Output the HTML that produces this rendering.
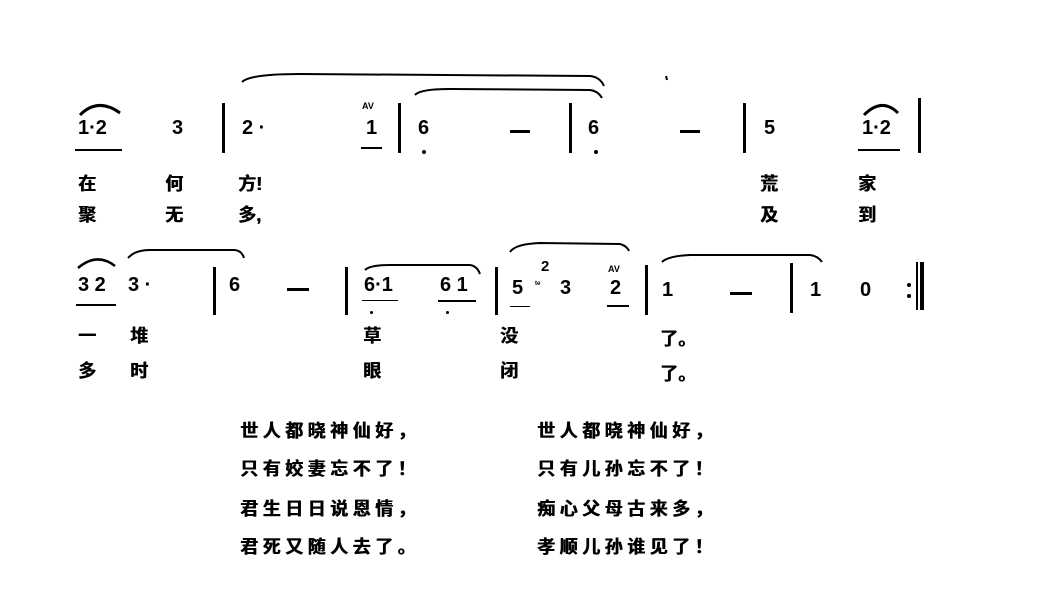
<!DOCTYPE html>
<html><head><meta charset="utf-8"><style>
body{margin:0;width:1038px;height:598px;background:#fff;position:relative;overflow:hidden;font-family:"Liberation Sans","Noto Sans CJK SC",sans-serif;color:#000}
.t{position:absolute;font-weight:bold;line-height:1;white-space:nowrap}
.n{font-size:20px;font-family:"Liberation Sans",sans-serif}
.c{font-size:18px;text-shadow:0.6px 0 0 #000}
.p{font-size:18px;letter-spacing:4.5px;text-shadow:0.6px 0 0 #000}
.b{position:absolute;background:#000;width:3px}
.u{position:absolute;background:#000;height:2px}
.d{position:absolute;width:4px;height:4px;background:#000;border-radius:2px}
.s{font-size:9px}
</style></head><body>
<svg width="1038" height="598" style="position:absolute;left:0;top:0" fill="none" stroke="#000" stroke-width="2">
<path d="M242 82 Q250 74 300 74 L590 76 Q600 77 604 86"/>
<path d="M415 95 Q420 89 450 89 L590 90 Q598 91 602 98"/>
<path d="M666 76 L667 80"/>
<path d="M80 115 Q98 97 120 113" stroke-width="3"/>
<path d="M864 115 Q882 97 898 113" stroke-width="3"/>
<path d="M78 268 Q97 252 115 266" stroke-width="2.5"/>
<path d="M128 258 Q135 250 150 250 L235 250 Q242 251 244 258"/>
<path d="M365 270 Q370 265 390 265 L470 265 Q477 266 480 274"/>
<path d="M510 252 Q515 244 540 243 L620 244 Q627 246 629 251"/>
<path d="M662 262 Q668 256 690 255 L810 255 Q818 256 822 262"/>
</svg>
<!-- row 1 -->
<div class="t n" style="left:78px;top:118px">1·2</div><div class="u" style="left:75px;top:149px;width:47px"></div>
<div class="t n" style="left:172px;top:118px">3</div>
<div class="b" style="left:222px;top:103px;height:50px"></div>
<div class="t n" style="left:242px;top:118px">2 ·</div>
<div class="t s" style="left:362px;top:102px">AV</div>
<div class="t n" style="left:366px;top:118px">1</div><div class="u" style="left:361px;top:147px;width:21px"></div>
<div class="b" style="left:398px;top:103px;height:50px"></div>
<div class="t n" style="left:418px;top:118px">6</div><div class="d" style="left:422px;top:150px"></div>
<div class="u" style="left:510px;top:130px;width:20px;height:3px"></div>
<div class="b" style="left:569px;top:103px;height:50px"></div>
<div class="t n" style="left:588px;top:118px">6</div><div class="d" style="left:594px;top:150px"></div>
<div class="u" style="left:680px;top:130px;width:20px;height:3px"></div>
<div class="b" style="left:743px;top:103px;height:50px"></div>
<div class="t n" style="left:764px;top:118px">5</div>
<div class="t n" style="left:862px;top:118px">1·2</div><div class="u" style="left:858px;top:149px;width:42px"></div>
<div class="b" style="left:918px;top:98px;height:55px"></div>
<div class="t c" style="left:78px;top:175px">在</div><div class="t c" style="left:165px;top:175px">何</div><div class="t c" style="left:238px;top:175px">方!</div>
<div class="t c" style="left:760px;top:175px">荒</div><div class="t c" style="left:858px;top:175px">家</div>
<div class="t c" style="left:78px;top:206px">聚</div><div class="t c" style="left:165px;top:206px">无</div><div class="t c" style="left:238px;top:206px">多,</div>
<div class="t c" style="left:760px;top:206px">及</div><div class="t c" style="left:858px;top:206px">到</div>
<!-- row 2 -->
<div class="t n" style="left:78px;top:275px">3 2</div><div class="u" style="left:76px;top:304px;width:40px"></div>
<div class="t n" style="left:128px;top:275px">3 ·</div>
<div class="b" style="left:213px;top:267px;height:48px"></div>
<div class="t n" style="left:229px;top:275px">6</div>
<div class="u" style="left:287px;top:288px;width:22px;height:3px"></div>
<div class="b" style="left:345px;top:267px;height:48px"></div>
<div class="t n" style="left:364px;top:275px">6·1</div><div class="u" style="left:362px;top:300px;width:36px;height:1px"></div><div class="d" style="left:370px;top:311px;width:3px;height:3px"></div>
<div class="t n" style="left:440px;top:275px">6 1</div><div class="u" style="left:438px;top:300px;width:38px"></div><div class="d" style="left:446px;top:311px;width:3px;height:3px"></div>
<div class="b" style="left:495px;top:267px;height:48px"></div>
<div class="t n" style="left:512px;top:278px">5</div><div class="u" style="left:510px;top:306px;width:20px;height:1px"></div>
<div class="t" style="left:541px;top:259px;font-size:15px">2</div>
<div class="t s" style="left:535px;top:280px">ᵗᵉ</div>
<div class="t n" style="left:560px;top:278px">3</div>
<div class="t s" style="left:608px;top:265px">AV</div>
<div class="t n" style="left:610px;top:278px">2</div><div class="u" style="left:607px;top:305px;width:22px"></div>
<div class="b" style="left:645px;top:265px;height:50px"></div>
<div class="t n" style="left:662px;top:280px">1</div>
<div class="u" style="left:730px;top:292px;width:22px;height:3px"></div>
<div class="b" style="left:790px;top:263px;height:50px"></div>
<div class="t n" style="left:810px;top:280px">1</div>
<div class="t n" style="left:860px;top:280px">0</div>
<div class="d" style="left:907px;top:283px"></div><div class="d" style="left:907px;top:294px"></div>
<div class="b" style="left:916px;top:262px;height:48px;width:2px"></div><div class="b" style="left:920px;top:262px;height:48px;width:4px"></div>
<div class="t c" style="left:78px;top:327px">一</div><div class="t c" style="left:130px;top:327px">堆</div><div class="t c" style="left:363px;top:327px">草</div><div class="t c" style="left:500px;top:327px">没</div><div class="t c" style="left:660px;top:330px">了。</div>
<div class="t c" style="left:78px;top:362px">多</div><div class="t c" style="left:130px;top:362px">时</div><div class="t c" style="left:363px;top:362px">眼</div><div class="t c" style="left:500px;top:362px">闭</div><div class="t c" style="left:660px;top:365px">了。</div>
<!-- poem -->
<div class="t p" style="left:240px;top:422px">世人都晓神仙好，</div><div class="t p" style="left:537px;top:422px">世人都晓神仙好，</div>
<div class="t p" style="left:240px;top:460px">只有姣妻忘不了！</div><div class="t p" style="left:537px;top:460px">只有儿孙忘不了！</div>
<div class="t p" style="left:240px;top:500px">君生日日说恩情，</div><div class="t p" style="left:537px;top:500px">痴心父母古来多，</div>
<div class="t p" style="left:240px;top:538px">君死又随人去了。</div><div class="t p" style="left:537px;top:538px">孝顺儿孙谁见了！</div>
</body></html>
